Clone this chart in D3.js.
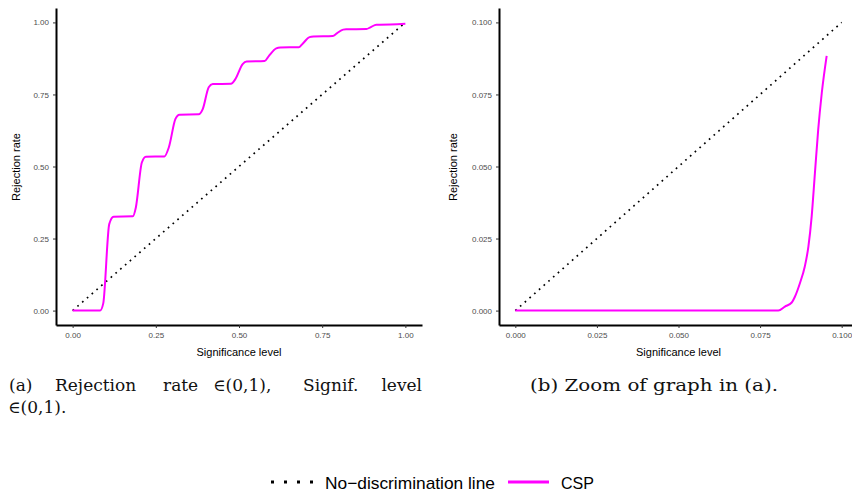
<!DOCTYPE html>
<html>
<head>
<meta charset="utf-8">
<script src="https://cdn.jsdelivr.net/npm/d3@7"></script>
<style>
  body { margin: 0; background: #fff; }
  svg { display: block; }
  .tick text { fill: #4d4d4d; font-family: "Liberation Sans", Arial, sans-serif; font-size: 8px; }
  .tick line { stroke: #333; stroke-width: 1; }
  .domain { stroke: #000; stroke-width: 2; }
  .atitle { font-family: "Liberation Sans", Arial, sans-serif; font-size: 11px; fill: #000; }
  .caption { font-family: "DejaVu Serif", "Liberation Serif", serif; font-size: 17px; fill: #111; }
  .legtext { font-family: "Liberation Sans", Arial, sans-serif; font-size: 17px; fill: #000; }
</style>
</head>
<body>
<div id="chart"></div>
<script>
// CSP rejection rate vs significance level, full range (panel a)
var fullX = [0, 0.0825, 0.092, 0.110, 0.123, 0.181, 0.190, 0.208, 0.220, 0.276, 0.289, 0.309, 0.321, 0.379, 0.391, 0.409, 0.421, 0.476, 0.489, 0.511, 0.523, 0.577, 0.590, 0.612, 0.624, 0.680, 0.692, 0.712, 0.724, 0.782, 0.794, 0.813, 0.822, 0.883, 0.895, 0.913, 0.923, 1.0];
var fullY = [0, 0, 0.025, 0.30, 0.326, 0.327, 0.358, 0.514, 0.534, 0.535, 0.566, 0.665, 0.680, 0.681, 0.699, 0.775, 0.786, 0.787, 0.803, 0.855, 0.864, 0.866, 0.884, 0.910, 0.913, 0.914, 0.927, 0.949, 0.951, 0.953, 0.962, 0.975, 0.976, 0.977, 0.983, 0.992, 0.992, 0.995];

// zoom on (0, 0.1) (panel b)
var zoomX = [0, 0.0806, 0.0826, 0.0847, 0.0857, 0.0872, 0.0887, 0.0898, 0.0908, 0.0918, 0.0928, 0.0939, 0.0954];
var zoomY = [0, 0, 0.0014, 0.0028, 0.0049, 0.0095, 0.0153, 0.0222, 0.0326, 0.0477, 0.0627, 0.0755, 0.0884];

var fullTicks = [0, 0.25, 0.5, 0.75, 1];
var zoomTicks = [0, 0.025, 0.05, 0.075, 0.1];

// caption (a) is justified, so each word is placed on its own
var captionA = ["(a)", "Rejection", "rate", "\u2208(0,1),", "Signif.", "level"];
var captionA2 = "\u2208(0,1).";
var captionB = "(b) Zoom of graph in (a).";

var width = 852;
var height = 497;

var svg = d3.select("#chart")
    .append("svg")
    .attr("width", width)
    .attr("height", height);

function drawPanel(opt) {
    var x = d3.scaleLinear().domain([-0.05 * opt.max, 1.05 * opt.max]).range([opt.left, opt.right]);
    var y = d3.scaleLinear().domain([-0.05 * opt.max, 1.05 * opt.max]).range([325, 8]);

    var g = svg.append("g");

    g.append("g")
        .attr("transform", "translate(0,325)")
        .call(d3.axisBottom(x).tickValues(opt.ticks).tickFormat(d3.format(opt.fmt)).tickSize(3).tickSizeOuter(0).tickPadding(4));

    g.append("g")
        .attr("transform", "translate(" + opt.left + ",0)")
        .call(d3.axisLeft(y).tickValues(opt.ticks).tickFormat(d3.format(opt.fmt)).tickSize(3).tickSizeOuter(0).tickPadding(4));

    // no-discrimination line
    g.append("line")
        .attr("x1", x(0)).attr("y1", y(0))
        .attr("x2", x(opt.max)).attr("y2", y(opt.max))
        .attr("stroke", "#000")
        .attr("stroke-width", 1.7)
        .attr("stroke-dasharray", "1.7,4.6");

    var line = d3.line()
        .x(function(d) { return x(d[0]); })
        .y(function(d) { return y(d[1]); })
        .curve(d3.curveMonotoneX);

    g.append("path")
        .datum(d3.zip(opt.xs, opt.ys))
        .attr("d", line)
        .attr("fill", "none")
        .attr("stroke", "#ff00ff")
        .attr("stroke-width", 2);

    g.append("text")
        .attr("class", "atitle")
        .attr("x", (x(0) + x(opt.max)) / 2)
        .attr("y", 356)
        .attr("text-anchor", "middle")
        .text("Significance level");

    g.append("text")
        .attr("class", "atitle")
        .attr("transform", "translate(" + (opt.left - opt.titleOff) + ",167)rotate(-90)")
        .attr("text-anchor", "middle")
        .text("Rejection rate");
}

drawPanel({left: 56, right: 422, max: 1, ticks: fullTicks, fmt: ".2f", xs: fullX, ys: fullY, titleOff: 36});
drawPanel({left: 499, right: 858, max: 0.1, ticks: zoomTicks, fmt: ".3f", xs: zoomX, ys: zoomY, titleOff: 42});

// captions: word starts for the justified line, last word right-aligned
var capStart = [9, 55, 163, 213, 303, 422];
svg.selectAll(".capA")
    .data(captionA)
    .enter()
    .append("text")
    .attr("class", "caption capA")
    .attr("x", function(d, i) { return capStart[i]; })
    .attr("y", 391)
    .attr("text-anchor", function(d, i) { return i === captionA.length - 1 ? "end" : "start"; })
    .text(function(d) { return d; });

svg.append("text")
    .attr("class", "caption")
    .attr("x", 8).attr("y", 413)
    .text(captionA2);

svg.append("text")
    .attr("class", "caption")
    .attr("x", 530).attr("y", 391)
    .attr("textLength", 248)
    .attr("lengthAdjust", "spacingAndGlyphs")
    .text(captionB);

// legend
var leg = svg.append("g");
leg.append("line")
    .attr("x1", 271).attr("x2", 316)
    .attr("y1", 482).attr("y2", 482)
    .attr("stroke", "#000")
    .attr("stroke-width", 3)
    .attr("stroke-dasharray", "3,10");
leg.append("text")
    .attr("class", "legtext")
    .attr("x", 325).attr("y", 488.5)
    .attr("textLength", 170)
    .attr("lengthAdjust", "spacingAndGlyphs")
    .text("No\u2212discrimination line");
leg.append("line")
    .attr("x1", 508).attr("x2", 549)
    .attr("y1", 482).attr("y2", 482)
    .attr("stroke", "#ff00ff")
    .attr("stroke-width", 3);
leg.append("text")
    .attr("class", "legtext")
    .attr("x", 561).attr("y", 488.5)
    .attr("textLength", 33)
    .attr("lengthAdjust", "spacingAndGlyphs")
    .text("CSP");
</script>
</body>
</html>
